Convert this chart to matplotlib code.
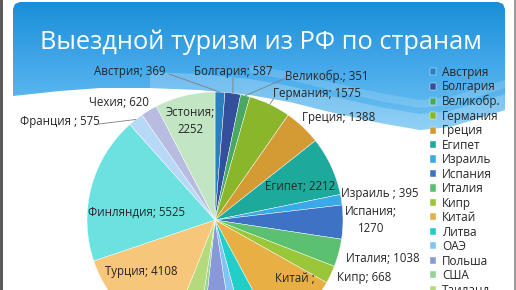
import matplotlib.pyplot as plt
from matplotlib.patches import Polygon, Rectangle
from matplotlib.colors import LinearSegmentedColormap
import numpy as np

plt.rcParams['font.family'] = ['Open Sans', 'DejaVu Sans']

# данные (тыс. поездок)
countries = ['Австрия', 'Болгария', 'Великобр.', 'Германия', 'Греция', 'Египет',
             'Израиль', 'Испания', 'Италия', 'Кипр', 'Китай', 'Литва', 'ОАЭ',
             'Польша', 'США', 'Таиланд', 'Турция', 'Финляндия', 'Франция',
             'Чехия', 'Эстония']
values = [369, 587, 351, 1575, 1388, 2212, 395, 1270, 1038, 668, 2680, 1090, 520,
          1220, 220, 1070, 4108, 5525, 575, 620, 2252]
colors = ['#2b80c2', '#34509c', '#4aa862', '#8ab62c', '#d49a34', '#1daa9c',
          '#39a9e8', '#3e72c4', '#5bc070', '#9ac63a', '#e8b044', '#22cfc8',
          '#80c4f4', '#8898d8', '#94d494', '#b4da7c', '#f6c67a', '#6ce2e0',
          '#b8d8f8', '#b8bce0', '#c2e6c4']
title = 'Выездной туризм из РФ по странам'

W, H = 516, 290
def py(y):
    return H - y

fig = plt.figure(figsize=(W / 100, H / 100), dpi=100)
ax = fig.add_axes([0, 0, 1, 1])

# синяя шапка слайда с волной
wave = [(505, 110), (480, 118), (450, 127), (420, 130), (380, 123), (330, 112),
        (290, 102), (250, 95), (200, 90), (150, 88), (100, 88), (60, 91), (13, 96)]
banner = [(13, 9), (15, 4), (20, 2), (498, 2), (503, 4), (505, 9)] + wave
banner_poly = Polygon([(x, py(y)) for x, y in banner], closed=True,
                      facecolor='none', edgecolor='none')
ax.add_patch(banner_poly)
cmap = LinearSegmentedColormap.from_list('bn', ['#1a8ed7', '#45a9ea', '#72c4f3'])
grad = np.linspace(0, 1, 256).reshape(-1, 1)
img = ax.imshow(grad, cmap=cmap, extent=(13, 505, py(132), py(2)), aspect='auto',
                zorder=0)
img.set_clip_path(banner_poly)

# светлые полосы волны
band = [(x, y - 16) for x, y in wave[:10]] + [(x, y) for x, y in wave[:10]][::-1]
ax.add_patch(Polygon([(x, py(y)) for x, y in band], closed=True,
                     facecolor='white', alpha=0.22, edgecolor='none', zorder=1))
band2 = [(x, y - 30) for x, y in wave[:8]] + [(x, y - 22) for x, y in wave[:8]][::-1]
ax.add_patch(Polygon([(x, py(y)) for x, y in band2], closed=True,
                     facecolor='white', alpha=0.15, edgecolor='none', zorder=1))

ax.text(261, py(42), title, color='white', fontsize=18.3, ha='center', va='center',
        zorder=3)

# круговая диаграмма
center = (215, py(220))
radius = 128
wedges, _ = ax.pie(values, colors=colors, startangle=90, counterclock=False,
                   center=center, radius=radius,
                   wedgeprops=dict(linewidth=0.3, edgecolor='white'))
for w in wedges:
    w.set_zorder(2)

# подписи
label_pos = {
    'Австрия': (130, 72), 'Болгария': (233, 72), 'Великобр.': (327, 76),
    'Германия': (317, 94), 'Греция': (339, 117), 'Египет': (300, 186),
    'Израиль': (380, 193), 'Испания': (371, 220), 'Италия': (383, 258),
    'Кипр': (364, 278), 'Китай': (295, 287), 'Турция': (141, 271),
    'Финляндия': (137, 212), 'Франция': (60, 121), 'Чехия': (119, 103),
    'Эстония': (190, 121),
}
spaced = {'Израиль', 'Китай', 'Франция'}
two_line = {'Испания', 'Китай', 'Эстония'}
leaders = {'Австрия': (169, 74), 'Болгария': (233, 78), 'Великобр.': (286, 78),
           'Германия': (274, 98), 'Франция': (99, 124)}

for name, val, w in zip(countries, values, wedges):
    if name not in label_pos:
        continue
    sep = ' ;' if name in spaced else ';'
    brk = '\n' if name in two_line else ' '
    txt = f'{name}{sep}{brk}{val}'
    x, y = label_pos[name]
    ax.text(x, py(y), txt, fontsize=8.3, color='#262626', ha='center', va='center',
            linespacing=1.35, zorder=4)
    if name in leaders:
        mid = np.deg2rad((w.theta1 + w.theta2) / 2)
        ex = center[0] + radius * np.cos(mid)
        ey = center[1] + radius * np.sin(mid)
        lx, ly = leaders[name]
        ax.plot([lx, ex], [py(ly), ey], color='#7f7f7f', lw=0.6, zorder=4)

leg = ax.legend(wedges, countries, loc='upper left',
                bbox_to_anchor=(430 / W, 1 - 66 / H), frameon=False, fontsize=8.5,
                handlelength=0.55, handleheight=0.55, handletextpad=0.45,
                labelspacing=0.125, borderaxespad=0, borderpad=0)
for t in leg.get_texts():
    t.set_color('#262626')
leg.set_zorder(5)

# рамка слайда
ax.add_patch(Rectangle((0, 0), 2.5, H, facecolor='#5a5a5a', edgecolor='none', zorder=6))
ax.add_patch(Rectangle((513.5, 0), 2.5, H, facecolor='#9a9a9a', edgecolor='none', zorder=6))

ax.set_xlim(0, W)
ax.set_ylim(0, H)
ax.set_aspect('auto')
ax.axis('off')
fig.savefig('out.png', dpi=100, facecolor='white')
